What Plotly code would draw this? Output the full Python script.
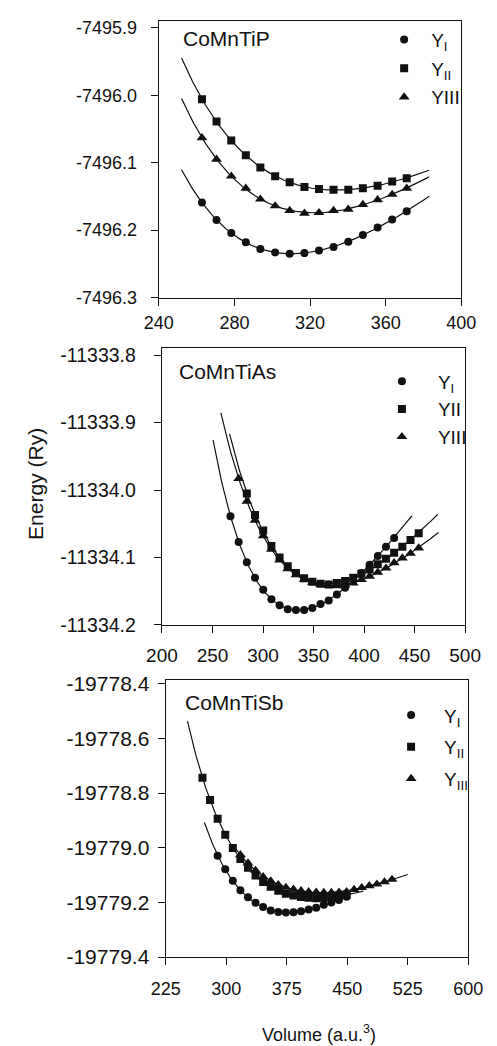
import numpy as np
import plotly.graph_objects as go

# ---------------- data ----------------
# CoMnTiP
tip_v = [262.8, 270.5, 278.3, 286.0, 293.7, 301.5, 309.2, 317.0, 324.7, 332.4,
         340.2, 347.9, 355.7, 363.4, 371.1]
tip_e_I = [-7496.159, -7496.185, -7496.204, -7496.218, -7496.228, -7496.233, -7496.235,
           -7496.234, -7496.230, -7496.225, -7496.217, -7496.207, -7496.196, -7496.184, -7496.172]
tip_e_II = [-7496.006, -7496.039, -7496.067, -7496.089, -7496.107, -7496.120, -7496.129,
            -7496.136, -7496.139, -7496.140, -7496.140, -7496.138, -7496.134, -7496.128, -7496.123]
tip_e_III = [-7496.063, -7496.095, -7496.120, -7496.138, -7496.154, -7496.164, -7496.171,
             -7496.175, -7496.174, -7496.171, -7496.169, -7496.162, -7496.155, -7496.147, -7496.138]

# CoMnTiAs
as_v_I = [267.8, 275.9, 284.0, 292.1, 300.2, 308.3, 316.4, 324.5, 332.6, 340.7, 348.8,
          356.9, 365.0, 373.1, 381.2, 389.3, 397.4, 405.5, 413.6, 421.7, 429.8]
as_e_I = [-11334.039, -11334.077, -11334.107, -11334.130, -11334.148, -11334.162, -11334.171,
          -11334.177, -11334.178, -11334.178, -11334.175, -11334.169, -11334.164, -11334.155,
          -11334.145, -11334.134, -11334.123, -11334.111, -11334.098, -11334.084, -11334.071]
as_v_II = [284.0, 292.1, 300.2, 308.3, 316.4, 324.5, 332.6, 340.7, 348.8, 356.9, 365.0,
           373.1, 381.2, 389.3, 397.4, 405.5, 413.6, 421.7, 429.8, 437.9, 446.0, 454.1]
as_e_II = [-11334.005, -11334.037, -11334.060, -11334.083, -11334.100, -11334.113, -11334.123,
           -11334.131, -11334.136, -11334.139, -11334.140, -11334.138, -11334.135, -11334.130,
           -11334.124, -11334.118, -11334.110, -11334.102, -11334.093, -11334.084, -11334.074,
           -11334.064]
as_v_III = [275.9, 284.0, 292.1, 300.2, 308.3, 316.4, 324.5, 332.6, 340.7, 348.8, 356.9,
            365.0, 373.1, 381.2, 389.3, 397.4, 405.5, 413.6, 421.7, 429.8, 437.9, 446.0, 454.1]
as_e_III = [-11333.983, -11334.017, -11334.045, -11334.068, -11334.088, -11334.104, -11334.117,
            -11334.126, -11334.133, -11334.137, -11334.140, -11334.141, -11334.142, -11334.141,
            -11334.138, -11334.133, -11334.128, -11334.122, -11334.116, -11334.108, -11334.101,
            -11334.094, -11334.086]

# CoMnTiSb
sb_v_I = [289.4, 298.8, 308.2, 317.6, 327.0, 336.4, 345.8, 355.2, 364.6, 374.0, 383.4,
          392.8, 402.2, 411.6, 421.0, 430.4, 439.8, 449.2]
sb_e_I = [-19779.029, -19779.079, -19779.121, -19779.155, -19779.181, -19779.201, -19779.217,
          -19779.229, -19779.235, -19779.237, -19779.236, -19779.232, -19779.226, -19779.219,
          -19779.208, -19779.200, -19779.191, -19779.179]
sb_v_II = [270.6, 280.0, 289.4, 298.8, 308.2, 317.6, 327.0, 336.4, 345.8, 355.2, 364.6,
           374.0, 383.4, 392.8, 402.2, 411.6, 421.0, 430.4, 439.8, 449.2]
sb_e_II = [-19778.744, -19778.825, -19778.894, -19778.952, -19779.001, -19779.041, -19779.073,
           -19779.101, -19779.125, -19779.143, -19779.157, -19779.168, -19779.175, -19779.180,
           -19779.183, -19779.185, -19779.183, -19779.181, -19779.177, -19779.173]
sb_v_III = [317.6, 327.0, 336.4, 345.8, 355.2, 364.6, 374.0, 383.4, 392.8, 402.2, 411.6,
            421.0, 430.4, 439.8, 449.2, 458.6, 468.0, 477.4, 486.8, 496.2, 505.6]
sb_e_III = [-19779.026, -19779.056, -19779.083, -19779.106, -19779.122, -19779.135, -19779.145,
            -19779.152, -19779.157, -19779.161, -19779.163, -19779.164, -19779.164, -19779.163,
            -19779.161, -19779.153, -19779.146, -19779.139, -19779.133, -19779.125, -19779.116]

# volume span over which each fitted curve is drawn
tip_fit_span = [(252, 383), (252, 383), (252, 383)]
as_fit_span = [(250.6, 447.5), (266.9, 472.8), (258.3, 473.7)]
sb_fit_span = [(273, 452), (252, 470), (308, 525)]

# axis ticks
tip_xticks = [240, 280, 320, 360, 400]
tip_yticks = [-7496.3, -7496.2, -7496.1, -7496.0, -7495.9]
as_xticks = [200, 250, 300, 350, 400, 450, 500]
as_yticks = [-11334.2, -11334.1, -11334.0, -11333.9, -11333.8]
sb_xticks = [225, 300, 375, 450, 525, 600]
sb_yticks = [-19779.4, -19779.2, -19779.0, -19778.8, -19778.6, -19778.4]

tip_names = ["Y<sub>I</sub>", "Y<sub>II</sub>", "YIII"]
as_names = ["Y<sub>I</sub>", "YII", "YIII"]
sb_names = ["Y<sub>I</sub>", "Y<sub>II</sub>", "Y<sub>III</sub>"]

FONT = "Arial, Liberation Sans, Helvetica, sans-serif"
INK = "#111111"
SYMBOLS = ["circle", "square", "triangle-up"]
SIZES = [8, 8, 9.5]


def eos_curve(v, e, lo, hi, n=200):
    """Third-order Birch-Murnaghan fit: E is cubic in (V/V0)^(-2/3)."""
    v = np.asarray(v, float)
    e = np.asarray(e, float)
    v0 = v.mean()
    e0 = e.mean()
    coef = np.polyfit((v / v0) ** (-2.0 / 3.0), e - e0, 3)
    vv = np.linspace(lo, hi, n)
    return vv, np.polyval(coef, (vv / v0) ** (-2.0 / 3.0)) + e0


fig = go.Figure()

panels = [
    (tip_v, tip_v, tip_v, tip_e_I, tip_e_II, tip_e_III, tip_fit_span, tip_names, "legend", 1),
    (as_v_I, as_v_II, as_v_III, as_e_I, as_e_II, as_e_III, as_fit_span, as_names, "legend2", 2),
    (sb_v_I, sb_v_II, sb_v_III, sb_e_I, sb_e_II, sb_e_III, sb_fit_span, sb_names, "legend3", 3),
]

for vI, vII, vIII, eI, eII, eIII, spans, names, leg, k in panels:
    xa = "x" if k == 1 else f"x{k}"
    ya = "y" if k == 1 else f"y{k}"
    series = [(vI, eI), (vII, eII), (vIII, eIII)]
    for (v, e), (lo, hi) in zip(series, spans):
        cv, ce = eos_curve(v, e, lo, hi)
        fig.add_trace(go.Scatter(x=cv, y=ce, mode="lines", xaxis=xa, yaxis=ya,
                                 line=dict(color=INK, width=1.2), showlegend=False,
                                 hoverinfo="skip"))
    for j, ((v, e), sym, sz, nm) in enumerate(zip(series, SYMBOLS, SIZES, names)):
        fig.add_trace(go.Scatter(x=v, y=e, mode="markers", xaxis=xa, yaxis=ya, name=nm,
                                 legend=leg, legendgroup=f"{leg}-{j}",
                                 marker=dict(symbol=sym, size=sz, color=INK,
                                             line=dict(width=0))))


def axis(domain, rng, ticks, fs, standoff, anchor, fmt):
    return dict(domain=domain, range=rng, tickvals=ticks,
                ticktext=[fmt.format(t) for t in ticks],
                showline=True, mirror=True, linecolor=INK, linewidth=1.3,
                ticks="outside", ticklen=7, tickwidth=1.3, tickcolor=INK,
                showgrid=False, zeroline=False, anchor=anchor,
                tickfont=dict(family=FONT, size=fs, color=INK),
                ticklabelstandoff=standoff)


W, H = 497, 1046


def px_x(a, b):
    return [a / W, b / W]


def px_y(top, bottom):
    return [1 - bottom / H, 1 - top / H]


def legend_box(x, y, width, gap):
    return dict(x=x / W, y=1 - y / H, xanchor="left", yanchor="top",
                bgcolor="rgba(0,0,0,0)", borderwidth=0, itemwidth=width,
                tracegroupgap=gap, font=dict(family=FONT, size=19, color=INK))


fig.update_layout(
    width=W, height=H,
    margin=dict(l=0, r=0, t=0, b=0),
    paper_bgcolor="white", plot_bgcolor="white",
    font=dict(family=FONT, color=INK),
    xaxis=axis(px_x(152.7, 476.0), [240, 400], tip_xticks, 18, 2, "y", "{:d}"),
    yaxis=axis(px_y(13.3, 295.0), [-7496.3, -7495.89], tip_yticks, 18, 10, "x", "{:.1f}"),
    xaxis2=axis(px_x(156.0, 480.0), [200, 500], as_xticks, 19, 6, "y2", "{:d}"),
    yaxis2=axis(px_y(346.7, 628.3), [-11334.2, -11333.79], as_yticks, 19.5, 14, "x2", "{:.1f}"),
    xaxis3=axis(px_x(160.0, 483.3), [225, 600], sb_xticks, 18, 8, "y3", "{:d}"),
    yaxis3=axis(px_y(684.3, 966.7), [-19779.4, -19778.386], sb_yticks, 21, 4, "x3", "{:.1f}"),
    legend=legend_box(386, 13, 44, 1),
    legend2=legend_box(374, 361, 62, 0),
    legend3=legend_box(387, 701, 56, 4),
)

titles = [("CoMnTiP", 176, 31), ("CoMnTiAs", 172, 370), ("CoMnTiSb", 179, 707)]
for txt, x, y in titles:
    fig.add_annotation(text=txt, x=x / W, y=1 - y / H, xref="paper", yref="paper",
                       xanchor="left", yanchor="middle", showarrow=False,
                       font=dict(family=FONT, size=21, color=INK))

fig.add_annotation(text="Energy (Ry)", x=20 / W, y=1 - 485 / H, xref="paper", yref="paper",
                   textangle=-90, showarrow=False, xanchor="center", yanchor="middle",
                   font=dict(family=FONT, size=21, color=INK))
fig.add_annotation(text="Volume (a.u.<sup>3</sup>)", x=324 / W, y=0, xref="paper", yref="paper",
                   xanchor="center", yanchor="bottom", yshift=-12, showarrow=False,
                   font=dict(family=FONT, size=18, color=INK))

fig.write_html("out.html")
